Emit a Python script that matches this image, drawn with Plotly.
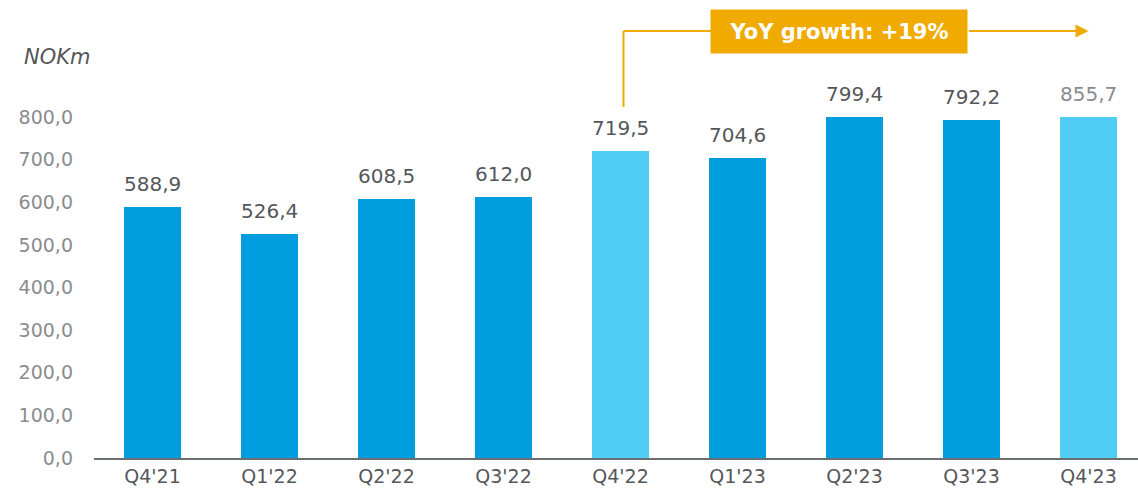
import plotly.graph_objects as go

categories = ["Q4'21", "Q1'22", "Q2'22", "Q3'22", "Q4'22", "Q1'23", "Q2'23", "Q3'23", "Q4'23"]
values = [588.9, 526.4, 608.5, 612.0, 719.5, 704.6, 799.4, 792.2, 855.7]
highlight = [False, False, False, False, True, False, False, False, True]
y_ticks = [0, 100, 200, 300, 400, 500, 600, 700, 800]
unit_label = "NOKm"
growth_label = "YoY growth: +19%"

BLUE = "#009EDF"
LIGHT = "#4FCDF4"
ORANGE = "#F0AA00"
FONT = "DejaVu Sans"

YMAX = 800
XR = [-0.5, 8.423]

def fmt(v):
    return f"{v:.1f}".replace(".", ",")

bar_colors = [LIGHT if h else BLUE for h in highlight]

fig = go.Figure()
fig.add_trace(go.Bar(
    x=list(range(len(categories))), y=values, marker_color=bar_colors,
    marker_line_width=0, width=0.482, hoverinfo="skip",
))

# value labels
for i, v in enumerate(values):
    col = "#8A8C8F" if i == len(values) - 1 else "#54575A"
    fig.add_annotation(x=i, y=min(v, YMAX), xref="x", yref="y", text=fmt(v),
                       showarrow=False, xanchor="center", yanchor="bottom", yshift=9,
                       font=dict(family=FONT, size=20, color=col))

plot_h = 500 - 117 - 42
def ypaper(px):
    return (458 - px) / plot_h

def xpaper(i):
    return (i - XR[0]) / (XR[1] - XR[0])

fig.add_annotation(x=(22 - 94) / 1044, y=ypaper(57), xref="paper", yref="paper",
                   text=f"<i>{unit_label}</i>",
                   showarrow=False, xanchor="left", yanchor="middle",
                   font=dict(family=FONT, size=21, color="#54575A"))

# YoY growth callout
x_start = xpaper(4) + 3 / 1044
fig.add_shape(type="line", xref="paper", yref="paper",
              x0=x_start, x1=x_start, y0=ypaper(107), y1=ypaper(31),
              line=dict(color=ORANGE, width=2))
fig.add_shape(type="line", xref="paper", yref="paper",
              x0=x_start, x1=(711 - 94) / 1044, y0=ypaper(31), y1=ypaper(31),
              line=dict(color=ORANGE, width=2))
fig.add_annotation(x=xpaper(8), y=ypaper(31), xref="paper", yref="paper",
                   ax=-(1088 - 967), ay=0, axref="pixel", ayref="pixel",
                   text="", showarrow=True, arrowhead=2, arrowsize=1.3, arrowwidth=2,
                   arrowcolor=ORANGE, standoff=0)
fig.add_annotation(x=(839 - 94) / 1044, y=ypaper(31.5), xref="paper", yref="paper",
                   text=f"<b>{growth_label}</b>", showarrow=False,
                   xanchor="center", yanchor="middle",
                   bgcolor=ORANGE, borderpad=7, width=242, height=29,
                   font=dict(family=FONT, size=21, color="white"))

fig.update_layout(
    width=1138, height=500,
    margin=dict(l=94, r=0, t=117, b=42),
    plot_bgcolor="white", paper_bgcolor="white",
    showlegend=False, bargap=0,
    font=dict(family=FONT, size=19, color="#8A8C8F"),
    xaxis=dict(range=XR, tickmode="array", tickvals=list(range(len(categories))),
               ticktext=categories, showline=True, linecolor="#6B6E71", linewidth=2,
               showgrid=False, zeroline=False, ticks="", automargin=False,
               tickfont=dict(family=FONT, size=19, color="#54575A")),
    yaxis=dict(range=[0, YMAX], tickmode="array", tickvals=y_ticks,
               ticktext=[fmt(t) for t in y_ticks], showgrid=False, zeroline=False,
               showline=False, ticks="", ticklabelstandoff=20, automargin=False,
               tickfont=dict(family=FONT, size=19, color="#8A8C8F")),
)

fig.write_html("out.html", config={"displayModeBar": False},
               post_script="document.body.style.margin='0';document.body.style.overflow='hidden';")
